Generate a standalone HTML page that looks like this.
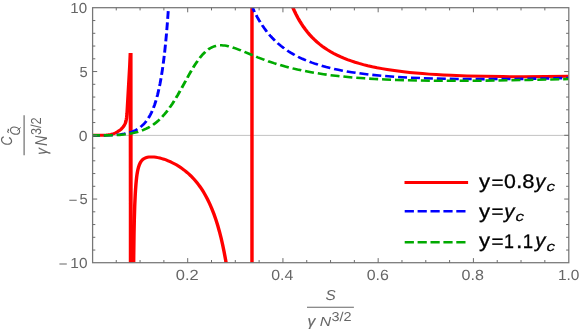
<!DOCTYPE html>
<html><head><meta charset="utf-8"><title>plot</title>
<style>
html,body{margin:0;padding:0;background:#fff;}
body{width:581px;height:332px;position:relative;overflow:hidden;font-family:"Liberation Sans",sans-serif;}
svg{will-change:transform;}
svg text{font-family:"Liberation Sans",sans-serif;font-kerning:none;text-rendering:geometricPrecision;}
</style></head><body>
<svg width="581" height="332" viewBox="0 0 581 332" style="position:absolute;left:0;top:0">
<defs><clipPath id="cp"><rect x="92.60" y="7.70" width="476.20" height="255.00"/></clipPath><filter id="bl" x="-5%" y="-5%" width="110%" height="110%"><feGaussianBlur stdDeviation="0.4"/></filter></defs>
<line x1="92.60" y1="135.40" x2="568.80" y2="135.40" stroke="#b4b4b4" stroke-width="0.8"/>
<g clip-path="url(#cp)" fill="none" stroke-linejoin="miter" stroke-miterlimit="3">
<g transform="scale(1.150 1)">
<path d="M80.516 135.30 L84.789 135.35 L88.261 135.32 L90.142 135.23 L92.438 135.04 L94.242 134.82 L96.233 134.44 L97.815 134.05 L98.998 133.63 L100.199 133.03 L101.864 131.97 L103.764 130.56 L105.190 129.31 L106.076 128.34 L107.157 126.94 L107.815 125.81 L108.633 124.04 L108.953 123.18 L109.236 122.25 L109.565 120.93 L109.797 119.77 L110.093 117.76 L110.435 114.00 L113.478 53.00 L113.739 280 M115.925 310.02 L116.101 277.20 L116.277 255.29 L116.523 234.55 L116.805 218.75 L117.156 205.49 L117.579 194.82 L117.825 190.21 L118.218 184.08 L118.497 180.52 L118.838 177.00 L119.210 173.94 L119.613 171.28 L120.047 168.97 L120.543 166.86 L121.101 164.97 L121.690 163.39 L122.341 162.00 L123.085 160.76 L123.829 159.80 L124.696 159.02 L125.772 158.28 L126.917 157.72 L128.166 157.30 L129.520 157.03 L130.977 156.89 L132.539 156.89 L134.031 157.01 L135.627 157.24 L137.292 157.59 L138.993 158.03 L140.762 158.58 L142.567 159.23 L144.371 159.96 L146.210 160.79 L148.014 161.69 L149.819 162.68 L151.588 163.73 L153.358 164.86 L155.058 166.04 L156.759 167.30 L158.424 168.62 L160.055 170.01 L161.547 171.37 L163.039 172.81 L164.497 174.31 L165.919 175.87 L167.307 177.48 L168.661 179.15 L169.979 180.88 L171.263 182.66 L172.512 184.50 L173.727 186.39 L174.906 188.34 L176.052 190.34 L177.162 192.39 L178.272 194.56 L179.348 196.79 L180.389 199.07 L182.332 203.70 L184.206 208.67 L185.941 213.80 L187.726 219.65 L189.307 225.42 L190.818 231.54 L192.259 238.04 L193.594 244.73 L194.894 251.97 L196.123 259.58 L197.175 266.80 L198.285 275.32 L199.326 284.20 L200.298 293.40 L201.235 303.24 L202.137 313.78 M219.110 300 L219.110 -20 M242.292 -43.17 L243.210 -37.58 L244.128 -32.41 L245.138 -27.15 L246.148 -22.29 L247.250 -17.39 L248.351 -12.86 L249.453 -8.67 L250.646 -4.47 L251.932 -0.29 L253.217 3.57 L254.594 7.38 L255.971 10.90 L257.440 14.37 L258.909 17.58 L260.470 20.73 L262.122 23.81 L263.774 26.65 L265.519 29.42 L267.355 32.11 L269.283 34.72 L271.302 37.23 L273.322 39.55 L275.525 41.87 L277.729 44.01 L280.024 46.07 L282.411 48.03 L284.889 49.91 L287.552 51.77 L290.214 53.47 L293.060 55.14 L295.906 56.67 L298.935 58.17 L302.057 59.58 L305.362 60.95 L308.758 62.24 L312.247 63.45 L315.919 64.61 L319.775 65.72 L323.723 66.75 L327.854 67.73 L332.169 68.65 L336.575 69.51 L341.257 70.33 L346.031 71.08 L350.988 71.78 L356.221 72.44 L361.638 73.04 L367.330 73.61 L373.205 74.12 L379.264 74.57 L385.599 74.99 L392.117 75.35 L406.071 75.95 L421.127 76.37 L437.376 76.61 L455.002 76.68 L474.006 76.58 L494.478 76.30" stroke="#ff0000" stroke-width="3.00"/>
<path d="M113.583 53 V300" stroke="#ff0000" stroke-width="3.2"/>
<path d="M80.516 135.30 L86.884 135.38 L92.212 135.34 L96.847 135.17 L100.920 134.87 L104.602 134.43 L107.938 133.83 L110.970 133.07 L112.400 132.62 L113.742 132.14 L115.085 131.58 L116.342 130.99 L117.598 130.32 L118.768 129.62 L119.894 128.86 L120.977 128.05 L122.017 127.18 L123.056 126.21 L124.009 125.24 L124.963 124.16 L125.872 123.03 L126.782 121.79 L127.648 120.50 L128.472 119.15 L129.295 117.69 L130.074 116.17 L130.854 114.52 L131.634 112.73 L132.370 110.88 L133.107 108.88 L134.493 104.61 L135.793 99.93 L137.006 94.86 L138.175 89.19 L139.258 83.13 L140.298 76.46 L141.294 69.13 L142.204 61.49 L143.114 52.80 L143.937 43.88 L144.717 34.35 L145.497 23.60 L146.190 12.86 L146.883 0.83" stroke="#0000ff" stroke-width="2.55" stroke-dasharray="7.83 3.42" stroke-dashoffset="1.50"/>
<path d="M219.735 7.98 L221.044 11.18 L222.354 14.18 L223.773 17.23 L225.192 20.09 L226.721 22.97 L228.249 25.65 L229.777 28.17 L231.414 30.70 L233.052 33.06 L234.798 35.42 L236.545 37.62 L238.400 39.81 L240.256 41.85 L242.221 43.86 L244.295 45.85 L246.368 47.70 L248.552 49.51 L250.735 51.20 L253.027 52.85 L255.319 54.39 L257.721 55.89 L260.231 57.34 L262.851 58.76 L265.580 60.12 L268.418 61.44 L271.256 62.65 L274.203 63.82 L277.259 64.95 L280.425 66.02 L283.700 67.05 L287.083 68.03 L290.576 68.95 L294.178 69.83 L297.890 70.67 L301.710 71.45 L305.749 72.21 L309.788 72.90 L314.045 73.57 L322.995 74.78 L332.492 75.82 L342.753 76.73 L353.668 77.48 L365.457 78.09 L378.010 78.56 L391.436 78.89 L405.735 79.08 L421.126 79.14 L437.608 79.06 L455.292 78.85 L474.175 78.49 L494.478 78.00" stroke="#0000ff" stroke-width="2.55" stroke-dasharray="7.83 3.42" stroke-dashoffset="3.50"/>
<path d="M80.516 135.30 L86.315 135.39 L91.562 135.39 L95.980 135.31 L100.123 135.14 L103.989 134.88 L107.303 134.54 L110.617 134.08 L113.655 133.53 L116.692 132.82 L119.454 132.01 L122.216 131.02 L124.701 129.96 L127.186 128.70 L129.396 127.39 L131.605 125.89 L133.814 124.18 L135.747 122.49 L137.680 120.61 L139.614 118.52 L141.271 116.56 L143.204 114.07 L144.861 111.76 L146.518 109.27 L148.451 106.16 L149.832 103.81 L151.488 100.84 L154.526 95.06 L157.564 88.91 L164.468 74.54 L167.782 67.99 L169.439 64.92 L171.096 62.03 L172.753 59.34 L174.410 56.88 L176.343 54.31 L178.276 52.08 L179.933 50.44 L180.761 49.71 L181.866 48.84 L182.694 48.25 L183.799 47.56 L184.628 47.11 L185.732 46.60 L186.561 46.28 L187.665 45.93 L188.770 45.66 L189.875 45.48 L191.255 45.35 L192.636 45.33 L194.017 45.41 L195.398 45.58 L196.779 45.83 L198.436 46.22 L200.092 46.69 L202.026 47.34 L204.787 48.39 L208.101 49.81 L224.118 57.30 L228.813 59.37 L233.232 61.22 L238.202 63.15 L243.173 64.92 L248.144 66.55 L253.391 68.11 L258.638 69.53 L263.885 70.80 L269.408 72.01 L275.208 73.15 L281.283 74.20 L287.359 75.14 L293.987 76.04 L300.614 76.82 L308.623 77.63 L316.908 78.34 L325.745 78.96 L335.134 79.49 L345.076 79.94 L355.294 80.28 L366.064 80.54 L377.387 80.71 L389.262 80.79 L401.965 80.79 L415.497 80.71 L429.581 80.53 L444.493 80.27 L460.235 79.93 L476.804 79.49 L494.478 78.96" stroke="#00aa00" stroke-width="2.55" stroke-dasharray="7.83 3.42" stroke-dashoffset="1.50"/>
</g>
</g>
<g filter="url(#bl)">
<rect x="92.60" y="7.70" width="476.20" height="255.00" fill="none" stroke="#767676" stroke-width="1.25"/>
<path d="M116.26 262.70v-2.70 M116.26 7.70v2.70 M140.07 262.70v-2.70 M140.07 7.70v2.70 M163.88 262.70v-2.70 M163.88 7.70v2.70 M187.69 262.70v-4.60 M187.69 7.70v4.60 M211.50 262.70v-2.70 M211.50 7.70v2.70 M235.31 262.70v-2.70 M235.31 7.70v2.70 M259.12 262.70v-2.70 M259.12 7.70v2.70 M282.93 262.70v-4.60 M282.93 7.70v4.60 M306.74 262.70v-2.70 M306.74 7.70v2.70 M330.55 262.70v-2.70 M330.55 7.70v2.70 M354.36 262.70v-2.70 M354.36 7.70v2.70 M378.17 262.70v-4.60 M378.17 7.70v4.60 M401.98 262.70v-2.70 M401.98 7.70v2.70 M425.79 262.70v-2.70 M425.79 7.70v2.70 M449.60 262.70v-2.70 M449.60 7.70v2.70 M473.41 262.70v-4.60 M473.41 7.70v4.60 M497.22 262.70v-2.70 M497.22 7.70v2.70 M521.03 262.70v-2.70 M521.03 7.70v2.70 M544.84 262.70v-2.70 M544.84 7.70v2.70 M92.60 250.05h2.70 M568.80 250.05h-2.70 M92.60 237.30h2.70 M568.80 237.30h-2.70 M92.60 224.55h2.70 M568.80 224.55h-2.70 M92.60 211.80h2.70 M568.80 211.80h-2.70 M92.60 199.05h4.60 M568.80 199.05h-4.60 M92.60 186.30h2.70 M568.80 186.30h-2.70 M92.60 173.55h2.70 M568.80 173.55h-2.70 M92.60 160.80h2.70 M568.80 160.80h-2.70 M92.60 148.05h2.70 M568.80 148.05h-2.70 M92.60 135.30h4.60 M568.80 135.30h-4.60 M92.60 122.55h2.70 M568.80 122.55h-2.70 M92.60 109.80h2.70 M568.80 109.80h-2.70 M92.60 97.05h2.70 M568.80 97.05h-2.70 M92.60 84.30h2.70 M568.80 84.30h-2.70 M92.60 71.55h4.60 M568.80 71.55h-4.60 M92.60 58.80h2.70 M568.80 58.80h-2.70 M92.60 46.05h2.70 M568.80 46.05h-2.70 M92.60 33.30h2.70 M568.80 33.30h-2.70 M92.60 20.55h2.70 M568.80 20.55h-2.70" stroke="#6c6c6c" stroke-width="1.0" fill="none"/>
</g>
<text transform="translate(70.35 13.06) scale(1.5144 1.4548)" font-size="10" fill="#666666">10</text>
<text transform="translate(79.46 76.81) scale(1.4764 1.4548)" font-size="10" fill="#666666">5</text>
<text transform="translate(78.78 140.56) scale(1.5794 1.4548)" font-size="10" fill="#666666">0</text>
<text transform="translate(70.32 268.06) scale(1.5445 1.4548)" font-size="10" fill="#666666">10</text>
<text transform="translate(79.46 204.31) scale(1.4764 1.4548)" font-size="10" fill="#666666">5</text>
<path d="M59.4 264.00h7.4 M69.3 200.25h7.4" stroke="#666666" stroke-width="1.05"/>
<text transform="translate(175.81 280.01) scale(1.6452 1.4689)" font-size="10" fill="#666666">0.2</text>
<text transform="translate(271.23 280.01) scale(1.5850 1.4689)" font-size="10" fill="#666666">0.4</text>
<text transform="translate(366.63 280.01) scale(1.5951 1.4689)" font-size="10" fill="#666666">0.6</text>
<text transform="translate(461.62 280.01) scale(1.6060 1.4689)" font-size="10" fill="#666666">0.8</text>
<text transform="translate(557.97 280.01) scale(1.5452 1.4689)" font-size="10" fill="#666666">1.0</text>
<line x1="404.5" y1="182.5" x2="468.1" y2="182.5" stroke="#ff0000" stroke-width="3.0"/>
<line x1="404.7" y1="211.3" x2="468.1" y2="211.3" stroke="#0000ff" stroke-width="2.6" stroke-dasharray="9.2 3.7"/>
<line x1="404.7" y1="242.2" x2="468.1" y2="242.2" stroke="#00aa00" stroke-width="2.6" stroke-dasharray="9.2 3.7"/>
<text transform="translate(479.10 188.03) scale(2.2195 2.0113)" font-size="10" fill="#000" stroke="#000" stroke-width="0.15" vector-effect="non-scaling-stroke">y</text>
<text transform="translate(491.44 188.83) scale(2.0583 1.9239)" font-size="10" fill="#000" stroke="#000" stroke-width="0.15" vector-effect="non-scaling-stroke">=</text>
<text transform="translate(504.02 188.21) scale(2.1338 1.9774)" font-size="10" fill="#000" stroke="#000" stroke-width="0.15" vector-effect="non-scaling-stroke">0</text>
<text transform="translate(516.09 188.30) scale(2.3106 2.2444)" font-size="10" fill="#000" stroke="#000" stroke-width="0.15" vector-effect="non-scaling-stroke">.</text>
<text transform="translate(522.30 188.21) scale(2.1950 1.9774)" font-size="10" fill="#000" stroke="#000" stroke-width="0.15" vector-effect="non-scaling-stroke">8</text>
<text transform="translate(535.31 188.03) scale(2.0431 2.0113)" font-size="10" fill="#000" font-style="italic" stroke="#000" stroke-width="0.15" vector-effect="non-scaling-stroke">y</text>
<text transform="translate(546.53 191.37) scale(1.7322 1.3325)" font-size="10" fill="#000" font-style="italic" stroke="#000" stroke-width="0.15" vector-effect="non-scaling-stroke">c</text>
<text transform="translate(479.10 217.63) scale(2.2195 2.0113)" font-size="10" fill="#000" stroke="#000" stroke-width="0.15" vector-effect="non-scaling-stroke">y</text>
<text transform="translate(491.44 218.43) scale(2.0583 1.9239)" font-size="10" fill="#000" stroke="#000" stroke-width="0.15" vector-effect="non-scaling-stroke">=</text>
<text transform="translate(504.36 217.63) scale(2.0431 2.0113)" font-size="10" fill="#000" font-style="italic" stroke="#000" stroke-width="0.15" vector-effect="non-scaling-stroke">y</text>
<text transform="translate(515.58 220.97) scale(1.7322 1.3325)" font-size="10" fill="#000" font-style="italic" stroke="#000" stroke-width="0.15" vector-effect="non-scaling-stroke">c</text>
<text transform="translate(479.10 247.33) scale(2.2195 2.0113)" font-size="10" fill="#000" stroke="#000" stroke-width="0.15" vector-effect="non-scaling-stroke">y</text>
<text transform="translate(491.44 248.13) scale(2.0583 1.9239)" font-size="10" fill="#000" stroke="#000" stroke-width="0.15" vector-effect="non-scaling-stroke">=</text>
<text transform="translate(503.94 247.51) scale(1.7859 1.9774)" font-size="10" fill="#000" stroke="#000" stroke-width="0.15" vector-effect="non-scaling-stroke">1</text>
<text transform="translate(516.09 247.60) scale(2.3106 2.2444)" font-size="10" fill="#000" stroke="#000" stroke-width="0.15" vector-effect="non-scaling-stroke">.</text>
<text transform="translate(522.79 247.51) scale(1.8555 1.9774)" font-size="10" fill="#000" stroke="#000" stroke-width="0.15" vector-effect="non-scaling-stroke">1</text>
<text transform="translate(535.31 247.33) scale(2.0431 2.0113)" font-size="10" fill="#000" font-style="italic" stroke="#000" stroke-width="0.15" vector-effect="non-scaling-stroke">y</text>
<text transform="translate(546.53 250.67) scale(1.7322 1.3325)" font-size="10" fill="#000" font-style="italic" stroke="#000" stroke-width="0.15" vector-effect="non-scaling-stroke">c</text>
<line x1="307.0" y1="307.25" x2="353.9" y2="307.25" stroke="#666666" stroke-width="1.15"/>
<text transform="translate(325.56 300.46) scale(1.5368 1.4407)" font-size="10" fill="#666666" font-style="italic">S</text>
<text transform="translate(307.45 326.39) scale(1.5613 1.4551)" font-size="10" fill="#666666" font-style="italic" stroke="#666666" stroke-width="0.10" vector-effect="non-scaling-stroke">γ</text>
<text transform="translate(319.72 326.30) scale(1.5754 1.2936)" font-size="10" fill="#666666" font-style="italic">N</text>
<text transform="translate(331.45 320.72) scale(1.4480 1.2868)" font-size="10" fill="#666666">3/2</text>
<line x1="24.1" y1="115.3" x2="24.1" y2="155.2" stroke="#666666" stroke-width="1.15"/>
<text transform="translate(11.79 145.55) rotate(-90) scale(1.2642 1.5890)" font-size="10" fill="#666666" font-style="italic">C</text>
<text transform="translate(19.66 135.50) rotate(-90) scale(1.2001 1.4407)" font-size="10" fill="#666666" font-style="italic">O</text>
<path d="M17.2 130.6 L20.7 127.5" stroke="#666666" stroke-width="1.0"/>
<path d="M8.7 132.7 C7.1 131.9 7.5 131.1 8.1 130.8 C8.8 130.5 9.2 129.7 7.7 128.9" stroke="#666666" stroke-width="1.1" fill="none"/>
<text transform="translate(46.59 154.83) rotate(-90) scale(1.3383 1.5503)" font-size="10" fill="#666666" font-style="italic" stroke="#666666" stroke-width="0.10" vector-effect="non-scaling-stroke">γ</text>
<text transform="translate(47.10 145.94) rotate(-90) scale(1.4309 1.7151)" font-size="10" fill="#666666" font-style="italic">N</text>
<text transform="translate(40.91 135.08) rotate(-90) scale(1.2714 1.4434)" font-size="10" fill="#666666">3/2</text>
</svg>
</body></html>
